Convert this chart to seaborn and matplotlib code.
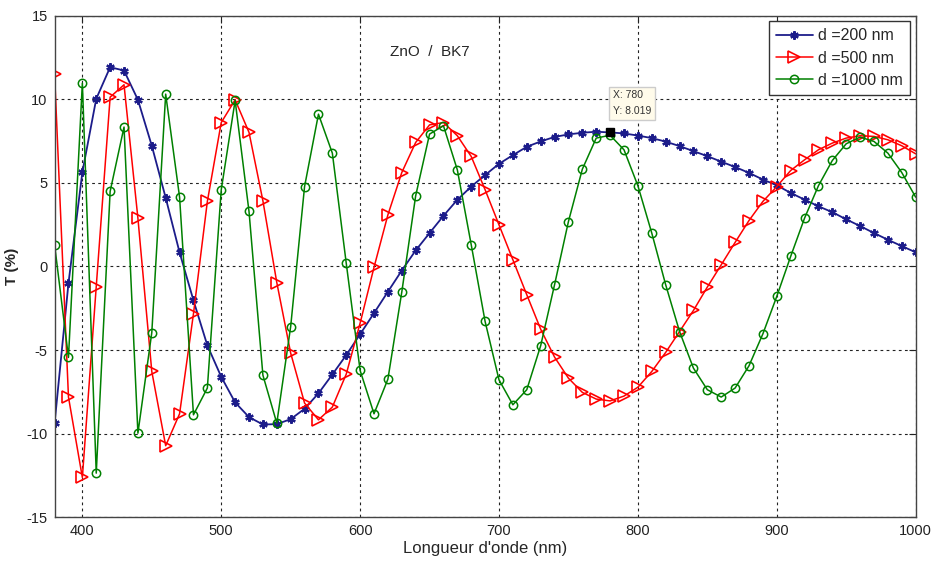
import numpy as np
import pandas as pd
import matplotlib
matplotlib.use("Agg")
import matplotlib.pyplot as plt
import seaborn as sns

# Wavelength grid (nm) and transmission curves T (%) for three ZnO thicknesses
wavelength = list(range(380, 1001, 10))

t_200 = [-9.39, -1.0, 5.64, 10.03, 11.92, 11.72, 9.97, 7.22, 4.11, 0.84,
         -2.03, -4.72, -6.6, -8.13, -9.01, -9.45, -9.43, -9.13, -8.51, -7.59,
         -6.46, -5.3, -4.05, -2.79, -1.51, -0.24, 0.96, 2.0, 3.03, 3.99,
         4.78, 5.47, 6.14, 6.66, 7.16, 7.48, 7.75, 7.9, 8.0, 8.06,
         8.019, 7.96, 7.83, 7.68, 7.47, 7.2, 6.9, 6.6, 6.27, 5.95,
         5.6, 5.2, 4.86, 4.4, 4.0, 3.6, 3.25, 2.82, 2.42, 2.0,
         1.6, 1.22, 0.85]

t_500 = [11.52, -7.81, -12.62, -1.2, 10.13, 10.87, 2.89, -6.28, -10.72, -8.81,
         -2.83, 3.89, 8.61, 9.97, 8.02, 3.93, -0.96, -5.18, -8.17, -9.17,
         -8.41, -6.44, -3.39, -0.05, 3.09, 5.62, 7.42, 8.47, 8.61, 7.82,
         6.58, 4.59, 2.49, 0.4, -1.69, -3.75, -5.42, -6.68, -7.53, -7.93,
         -8.04, -7.75, -7.22, -6.28, -5.14, -3.89, -2.63, -1.23, 0.1, 1.44,
         2.75, 3.89, 4.78, 5.74, 6.38, 6.98, 7.38, 7.68, 7.82, 7.78,
         7.58, 7.22, 6.74]

t_1000 = [1.3, -5.44, 10.97, -12.36, 4.49, 8.34, -9.97, -3.95, 10.31, 4.15,
          -8.87, -7.27, 4.59, 9.93, 3.29, -6.5, -9.37, -3.59, 4.78, 9.11,
          6.78, 0.2, -6.22, -8.81, -6.74, -1.53, 4.23, 7.92, 8.42, 5.78,
          1.3, -3.29, -6.78, -8.27, -7.37, -4.74, -1.09, 2.69, 5.82, 7.68,
          7.85, 6.98, 4.83, 2.0, -1.09, -3.89, -6.08, -7.37, -7.81, -7.27,
          -5.94, -4.03, -1.79, 0.6, 2.89, 4.83, 6.34, 7.34, 7.74, 7.48,
          6.78, 5.62, 4.15]

labels = ["d =200 nm", "d =500 nm", "d =1000 nm"]
x_ticks = [400, 500, 600, 700, 800, 900, 1000]
y_ticks = [-15, -10, -5, 0, 5, 10, 15]

# Data tip
tip_x, tip_y = 780, 8.019

sns.set_style("white")
plt.rcParams["font.family"] = ["Liberation Sans", "DejaVu Sans"]
plt.rcParams["axes.unicode_minus"] = False

fig = plt.figure(figsize=(9.33, 5.69), dpi=100)
ax = fig.add_axes([0.0585, 0.0909, 0.9229, 0.8815])

df = pd.DataFrame({"wl": wavelength, "t200": t_200, "t500": t_500, "t1000": t_1000})

navy = "#1c1c8a"
red = "#ff0000"
green = "#008000"

sns.lineplot(data=df, x="wl", y="t200", ax=ax, color=navy, lw=1.3,
             marker=(6, 2, 0), markersize=6, markeredgecolor=navy,
             markeredgewidth=1.6, label=labels[0])
sns.lineplot(data=df, x="wl", y="t500", ax=ax, color=red, lw=1.1,
             marker=">", markersize=8, markerfacecolor="none",
             markeredgecolor=red, markeredgewidth=1.2, label=labels[1])
sns.lineplot(data=df, x="wl", y="t1000", ax=ax, color=green, lw=1.1,
             marker="o", markersize=6, markerfacecolor="none",
             markeredgecolor=green, markeredgewidth=1.1, label=labels[2])

ax.set_xlim(380, 1000)
ax.set_ylim(-15, 15)
ax.set_xticks(x_ticks)
ax.set_yticks(y_ticks)
ax.tick_params(direction="in", length=5, width=0.8, top=True, right=True,
               labelsize=10.5, colors="#222222", pad=5)
ax.grid(True, color="#222222", linestyle=(0, (2.5, 3)), linewidth=0.8)
for sp in ax.spines.values():
    sp.set_color("#444444")
    sp.set_linewidth(1.0)

ax.set_xlabel("Longueur d'onde (nm)", fontsize=12, labelpad=2)
ax.set_ylabel("T (%)", fontsize=11, fontweight="bold")
ax.yaxis.set_label_coords(-0.041, 0.5)

ax.text(650, 12.85, "ZnO  /  BK7", ha="center", va="center", fontsize=11)

# Data tip marker and label
ax.plot([tip_x], [tip_y], marker="s", color="black", markersize=6, zorder=5)
ax.annotate(f"X: {tip_x}\nY: {tip_y}", xy=(tip_x, tip_y), xytext=(782, 9.0),
            fontsize=7.5, ha="left", va="bottom", color="#333333",
            linespacing=1.7,
            bbox=dict(boxstyle="square,pad=0.35", fc="#fffbea", ec="#cccccc", lw=1))

leg = ax.legend(loc="upper right", fontsize=11.5, frameon=True, fancybox=False,
                edgecolor="#333333", framealpha=1, borderpad=0.45,
                handlelength=2.3, handletextpad=0.35, labelspacing=0.45,
                borderaxespad=0.35)
leg.get_frame().set_linewidth(1.0)

fig.savefig("out.png", dpi=100)
